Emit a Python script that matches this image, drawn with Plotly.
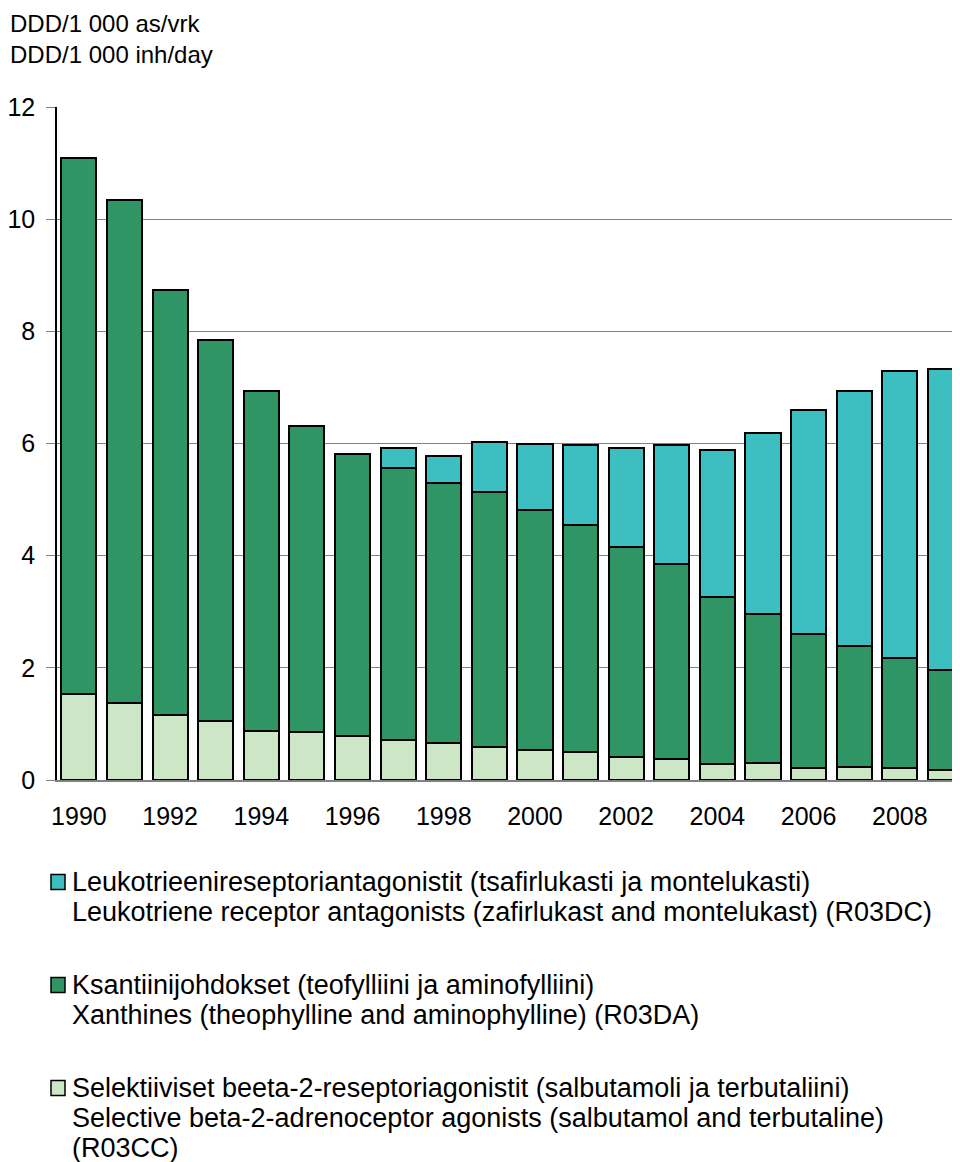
import plotly.graph_objects as go

years = list(range(1990, 2010))
# Selective beta-2 agonists (R03CC)
beta2 = [1.54, 1.38, 1.16, 1.06, 0.87, 0.85, 0.79, 0.72, 0.66, 0.58,
         0.54, 0.50, 0.41, 0.38, 0.29, 0.30, 0.22, 0.23, 0.22, 0.18]
# Xanthines (R03DA)
xanthines = [9.55, 8.96, 7.58, 6.78, 6.06, 5.46, 5.03, 4.85, 4.63, 4.55,
             4.27, 4.04, 3.74, 3.47, 2.97, 2.66, 2.39, 2.16, 1.96, 1.79]
# Leukotriene receptor antagonists (R03DC)
leukotriene = [0, 0, 0, 0, 0, 0, 0, 0.35, 0.49, 0.89,
               1.18, 1.44, 1.77, 2.13, 2.62, 3.22, 3.99, 4.54, 5.12, 5.35]

tick_years = list(range(1990, 2010, 2))
y_ticks = [0, 2, 4, 6, 8, 10, 12]

title_lines = ["DDD/1 000 as/vrk", "DDD/1 000 inh/day"]
legend_groups = [
    ("#3DBFC2", ["Leukotrieenireseptoriantagonistit (tsafirlukasti ja montelukasti)",
                 "Leukotriene receptor antagonists (zafirlukast and montelukast) (R03DC)"]),
    ("#2F9565", ["Ksantiinijohdokset (teofylliini ja aminofylliini)",
                 "Xanthines (theophylline and aminophylline) (R03DA)"]),
    ("#CDE6C5", ["Selektiiviset beeta-2-reseptoriagonistit (salbutamoli ja terbutaliini)",
                 "Selective beta-2-adrenoceptor agonists (salbutamol and terbutaline)",
                 "(R03CC)"]),
]

# page body has an 8px margin; figure is sized so it fills the rest of the window
OFF = 8
W, H = 960 - OFF, 1162 - OFF
L, R, T, B = 57 - OFF, 0, 107 - OFF, 1162 - 780
pw, ph = W - L - R, H - T - B
FONT = "Liberation Sans, Arial, sans-serif"


def px_x(px):
    return (px - OFF - L) / pw


def px_y(py):
    return (H - B - (py - OFF)) / ph


fig = go.Figure()
line = dict(color="black", width=2)
fig.add_trace(go.Bar(x=years, y=beta2, marker=dict(color="#CDE6C5", line=line), width=0.77))
fig.add_trace(go.Bar(x=years, y=xanthines, marker=dict(color="#2F9565", line=line), width=0.77))
fig.add_trace(go.Bar(x=years, y=leukotriene, marker=dict(color="#3DBFC2", line=line), width=0.77))

annotations = [dict(text="<br>".join(title_lines), xref="paper", yref="paper", x=px_x(8), y=px_y(39),
                    xanchor="left", yanchor="middle", align="left", showarrow=False,
                    font=dict(family=FONT, size=24, color="black"))]
shapes = []

group_y = [882, 985, 1088]
line_gap = 30
for (color, lines), gy in zip(legend_groups, group_y):
    shapes.append(dict(type="rect", xref="paper", yref="paper",
                       x0=px_x(51), x1=px_x(65), y0=px_y(gy - 7.5), y1=px_y(gy + 7.5),
                       fillcolor=color, line=dict(color="black", width=1.5)))
    for j, t in enumerate(lines):
        annotations.append(dict(text=t, xref="paper", yref="paper", x=px_x(70), y=px_y(gy + line_gap * j),
                                xanchor="left", yanchor="middle", showarrow=False,
                                font=dict(family=FONT, size=27, color="black")))

fig.update_layout(
    width=W, height=H,
    margin=dict(l=L, r=R, t=T, b=B, pad=0),
    barmode="stack", bargap=0.23,
    showlegend=False,
    plot_bgcolor="white", paper_bgcolor="white",
    font=dict(family=FONT, size=25, color="black"),
    xaxis=dict(range=[1989.52, 2009.32], tickvals=tick_years, ticktext=[str(v) for v in tick_years],
               ticks="", showgrid=False, showline=True, linecolor="#808080", linewidth=1.5,
               ticklabelstandoff=13, zeroline=False),
    yaxis=dict(range=[0, 12], tickvals=y_ticks, ticks="outside", ticklen=9, tickcolor="#808080",
               showgrid=True, gridcolor="#808080", gridwidth=1.3,
               showline=True, linecolor="black", linewidth=1.5, zeroline=False,
               ticklabelstandoff=6),
    annotations=annotations, shapes=shapes,
)

fig.write_html("out.html")
